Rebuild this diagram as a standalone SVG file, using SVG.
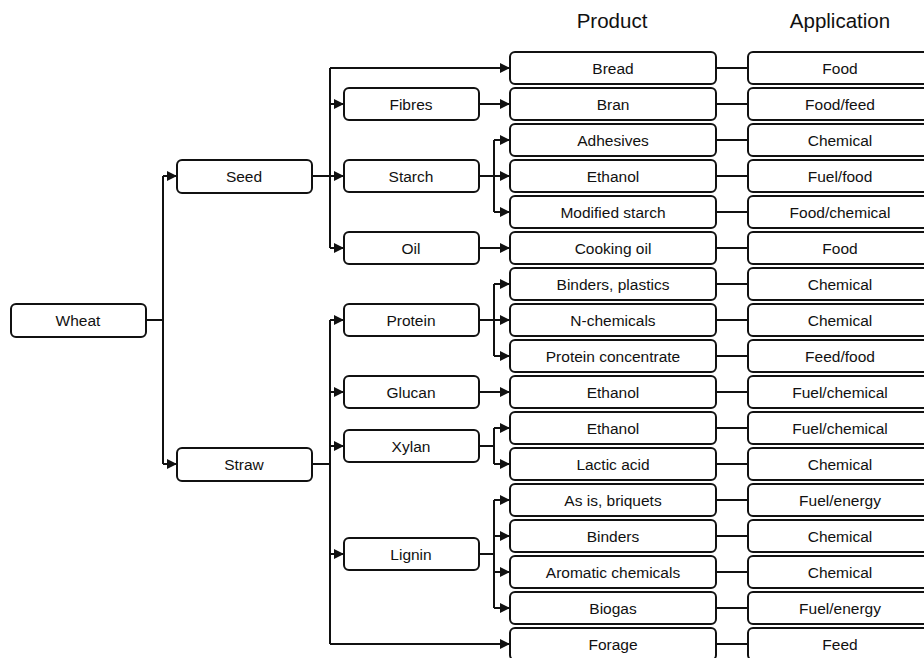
<svg xmlns="http://www.w3.org/2000/svg" width="924" height="658" viewBox="0 0 924 658">
<defs>
<marker id="ah" viewBox="0 0 10 10" refX="10" refY="5" markerWidth="10" markerHeight="10" markerUnits="userSpaceOnUse" orient="auto"><path d="M0,0 L10,5 L0,10 Z" fill="#111"/></marker>
<style>
rect{fill:#fff;stroke:#111;stroke-width:2}
text{font-family:"Liberation Sans",Arial,sans-serif;font-size:15.5px;fill:#111;text-anchor:middle}
.h{font-size:20.5px}
.c{fill:none;stroke:#111;stroke-width:2}
.a{marker-end:url(#ah)}
</style>
</defs>
<rect width="924" height="658" style="fill:#fff;stroke:none"/>
<text class="h" x="612" y="28">Product</text>
<text class="h" x="840" y="28">Application</text>
<g id="connectors">
<path class="c" d="M146,320 H163 M163,176 V464"/>
<path class="c a" d="M163,176 H177"/>
<path class="c a" d="M163,464 H177"/>
<path class="c" d="M312,176 H330 M330,68 V248"/>
<path class="c a" d="M330,68 H510"/>
<path class="c a" d="M330,104 H344"/>
<path class="c a" d="M330,176 H344"/>
<path class="c a" d="M330,248 H344"/>
<path class="c a" d="M479,104 H510"/>
<path class="c" d="M479,176 H494 M494,140 V212"/>
<path class="c a" d="M494,140 H510"/>
<path class="c a" d="M494,176 H510"/>
<path class="c a" d="M494,212 H510"/>
<path class="c a" d="M479,248 H510"/>
<path class="c" d="M312,464 H330 M330,320 V644"/>
<path class="c a" d="M330,320 H344"/>
<path class="c a" d="M330,392 H344"/>
<path class="c a" d="M330,446 H344"/>
<path class="c a" d="M330,554 H344"/>
<path class="c a" d="M330,644 H510"/>
<path class="c" d="M479,320 H494 M494,284 V356"/>
<path class="c a" d="M494,284 H510"/>
<path class="c a" d="M494,320 H510"/>
<path class="c a" d="M494,356 H510"/>
<path class="c a" d="M479,392 H510"/>
<path class="c" d="M479,446 H494 M494,428 V464"/>
<path class="c a" d="M494,428 H510"/>
<path class="c a" d="M494,464 H510"/>
<path class="c" d="M479,554 H494 M494,500 V608"/>
<path class="c a" d="M494,500 H510"/>
<path class="c a" d="M494,536 H510"/>
<path class="c a" d="M494,572 H510"/>
<path class="c a" d="M494,608 H510"/>
<path class="c" d="M716,68 H748 M716,104 H748 M716,140 H748 M716,176 H748 M716,212 H748 M716,248 H748 M716,284 H748 M716,320 H748 M716,356 H748 M716,392 H748 M716,428 H748 M716,464 H748 M716,500 H748 M716,536 H748 M716,572 H748 M716,608 H748 M716,644 H748"/>
</g>
<g id="wheat"><rect x="11" y="304" width="135" height="33" rx="5"/><text x="78" y="326">Wheat</text></g>
<g id="seed"><rect x="177" y="160" width="135" height="33" rx="5"/><text x="244" y="182">Seed</text></g>
<g id="straw"><rect x="177" y="448" width="135" height="33" rx="5"/><text x="244" y="470">Straw</text></g>
<g id="fibres"><rect x="344" y="88" width="135" height="32" rx="5"/><text x="411" y="109.5">Fibres</text></g>
<g id="starch"><rect x="344" y="160" width="135" height="32" rx="5"/><text x="411" y="181.5">Starch</text></g>
<g id="oil"><rect x="344" y="232" width="135" height="32" rx="5"/><text x="411" y="253.5">Oil</text></g>
<g id="protein"><rect x="344" y="304" width="135" height="32" rx="5"/><text x="411" y="325.5">Protein</text></g>
<g id="glucan"><rect x="344" y="376" width="135" height="32" rx="5"/><text x="411" y="397.5">Glucan</text></g>
<g id="xylan"><rect x="344" y="430" width="135" height="32" rx="5"/><text x="411" y="451.5">Xylan</text></g>
<g id="lignin"><rect x="344" y="538" width="135" height="32" rx="5"/><text x="411" y="559.5">Lignin</text></g>
<g id="p-bread"><rect x="510" y="52" width="206" height="32" rx="5"/><text x="613" y="73.5">Bread</text></g>
<g id="p-bran"><rect x="510" y="88" width="206" height="32" rx="5"/><text x="613" y="109.5">Bran</text></g>
<g id="p-adhesives"><rect x="510" y="124" width="206" height="32" rx="5"/><text x="613" y="145.5">Adhesives</text></g>
<g id="p-ethanol1"><rect x="510" y="160" width="206" height="32" rx="5"/><text x="613" y="181.5">Ethanol</text></g>
<g id="p-modstarch"><rect x="510" y="196" width="206" height="32" rx="5"/><text x="613" y="217.5">Modified starch</text></g>
<g id="p-cookingoil"><rect x="510" y="232" width="206" height="32" rx="5"/><text x="613" y="253.5">Cooking oil</text></g>
<g id="p-binders-plastics"><rect x="510" y="268" width="206" height="32" rx="5"/><text x="613" y="289.5">Binders, plastics</text></g>
<g id="p-nchem"><rect x="510" y="304" width="206" height="32" rx="5"/><text x="613" y="325.5">N-chemicals</text></g>
<g id="p-protconc"><rect x="510" y="340" width="206" height="32" rx="5"/><text x="613" y="361.5">Protein concentrate</text></g>
<g id="p-ethanol2"><rect x="510" y="376" width="206" height="32" rx="5"/><text x="613" y="397.5">Ethanol</text></g>
<g id="p-ethanol3"><rect x="510" y="412" width="206" height="32" rx="5"/><text x="613" y="433.5">Ethanol</text></g>
<g id="p-lactic"><rect x="510" y="448" width="206" height="32" rx="5"/><text x="613" y="469.5">Lactic acid</text></g>
<g id="p-briquets"><rect x="510" y="484" width="206" height="32" rx="5"/><text x="613" y="505.5">As is, briquets</text></g>
<g id="p-binders"><rect x="510" y="520" width="206" height="32" rx="5"/><text x="613" y="541.5">Binders</text></g>
<g id="p-aromatic"><rect x="510" y="556" width="206" height="32" rx="5"/><text x="613" y="577.5">Aromatic chemicals</text></g>
<g id="p-biogas"><rect x="510" y="592" width="206" height="32" rx="5"/><text x="613" y="613.5">Biogas</text></g>
<g id="p-forage"><rect x="510" y="628" width="206" height="32" rx="5"/><text x="613" y="649.5">Forage</text></g>
<g id="a1"><rect x="748" y="52" width="184" height="32" rx="5"/><text x="840" y="73.5">Food</text></g>
<g id="a2"><rect x="748" y="88" width="184" height="32" rx="5"/><text x="840" y="109.5">Food/feed</text></g>
<g id="a3"><rect x="748" y="124" width="184" height="32" rx="5"/><text x="840" y="145.5">Chemical</text></g>
<g id="a4"><rect x="748" y="160" width="184" height="32" rx="5"/><text x="840" y="181.5">Fuel/food</text></g>
<g id="a5"><rect x="748" y="196" width="184" height="32" rx="5"/><text x="840" y="217.5">Food/chemical</text></g>
<g id="a6"><rect x="748" y="232" width="184" height="32" rx="5"/><text x="840" y="253.5">Food</text></g>
<g id="a7"><rect x="748" y="268" width="184" height="32" rx="5"/><text x="840" y="289.5">Chemical</text></g>
<g id="a8"><rect x="748" y="304" width="184" height="32" rx="5"/><text x="840" y="325.5">Chemical</text></g>
<g id="a9"><rect x="748" y="340" width="184" height="32" rx="5"/><text x="840" y="361.5">Feed/food</text></g>
<g id="a10"><rect x="748" y="376" width="184" height="32" rx="5"/><text x="840" y="397.5">Fuel/chemical</text></g>
<g id="a11"><rect x="748" y="412" width="184" height="32" rx="5"/><text x="840" y="433.5">Fuel/chemical</text></g>
<g id="a12"><rect x="748" y="448" width="184" height="32" rx="5"/><text x="840" y="469.5">Chemical</text></g>
<g id="a13"><rect x="748" y="484" width="184" height="32" rx="5"/><text x="840" y="505.5">Fuel/energy</text></g>
<g id="a14"><rect x="748" y="520" width="184" height="32" rx="5"/><text x="840" y="541.5">Chemical</text></g>
<g id="a15"><rect x="748" y="556" width="184" height="32" rx="5"/><text x="840" y="577.5">Chemical</text></g>
<g id="a16"><rect x="748" y="592" width="184" height="32" rx="5"/><text x="840" y="613.5">Fuel/energy</text></g>
<g id="a17"><rect x="748" y="628" width="184" height="32" rx="5"/><text x="840" y="649.5">Feed</text></g>
</svg>
